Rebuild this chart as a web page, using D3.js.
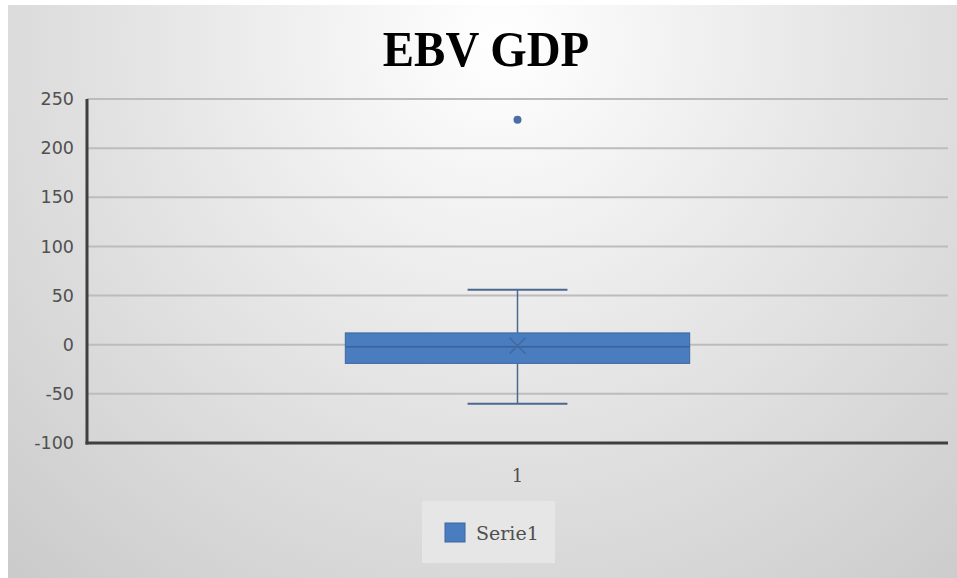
<!DOCTYPE html>
<html>
<head>
<meta charset="utf-8">
<script src="https://cdn.jsdelivr.net/npm/d3@7"></script>
<style>
  html, body { margin: 0; padding: 0; background: #ffffff; }
  svg { display: block; }
</style>
</head>
<body>
<svg id="chart" width="957" height="578"></svg>
<script>
// Box-plot summary of the EBV GDP values
const categories = ["1"];
const seriesName = "Serie1";
const whiskerLow = [-60];
const q1 = [-19];
const median = [-2];
const q3 = [12];
const whiskerHigh = [56];
const mean = [-1];
const outliers = [[229]];
const yTicks = [-100, -50, 0, 50, 100, 150, 200, 250];

const svg = d3.select("#chart");
const W = 957, H = 578;

// Soft radial background
const defs = svg.append("defs");
const grad = defs.append("radialGradient")
  .attr("id", "bg").attr("gradientUnits", "userSpaceOnUse")
  .attr("cx", 500).attr("cy", 40).attr("r", 720);
grad.append("stop").attr("offset", "0").attr("stop-color", "#ffffff");
grad.append("stop").attr("offset", "0.45").attr("stop-color", "#e7e7e7");
grad.append("stop").attr("offset", "1").attr("stop-color", "#cbcbcb");

svg.append("rect").attr("x", 8).attr("y", 5).attr("width", W - 8).attr("height", H - 5)
  .attr("fill", "url(#bg)");

// Title
svg.append("text")
  .attr("transform", "translate(486,66) scale(0.92,1)")
  .attr("text-anchor", "middle")
  .attr("font-family", "Liberation Serif, Times New Roman, serif")
  .attr("font-weight", "bold")
  .attr("font-size", 51)
  .attr("fill", "#000")
  .text("EBV GDP");

const plot = { left: 87, right: 948, top: 99, bottom: 443 };

const y = d3.scaleLinear().domain([-100, 250]).range([plot.bottom, plot.top]);
const x = d3.scaleBand().domain(categories).range([plot.left, plot.right]).padding(0.4286);

// Gridlines
svg.append("g").selectAll("line").data(yTicks.filter(t => t !== -100)).join("line")
  .attr("x1", plot.left).attr("x2", plot.right)
  .attr("y1", d => y(d)).attr("y2", d => y(d))
  .attr("stroke", "#bcbcbc").attr("stroke-width", 2);

// Y axis labels
const yAxis = d3.axisLeft(y).tickValues(yTicks).tickSize(0).tickPadding(13)
  .tickFormat(d => String(d));
const gy = svg.append("g").attr("transform", `translate(${plot.left},0)`).call(yAxis);
gy.select(".domain").remove();
gy.selectAll("text")
  .attr("font-family", "DejaVu Sans, Verdana, sans-serif")
  .attr("font-size", 17.5)
  .attr("fill", "#505050");

// X axis labels
const xAxis = d3.axisBottom(x).tickSize(0).tickPadding(26);
const gx = svg.append("g").attr("transform", `translate(0,${plot.bottom})`).call(xAxis);
gx.select(".domain").remove();
gx.selectAll("text")
  .attr("font-family", "DejaVu Serif, Georgia, serif")
  .attr("font-size", 18)
  .attr("fill", "#505050");

// Axis lines
svg.append("line").attr("x1", plot.left).attr("x2", plot.left)
  .attr("y1", plot.top).attr("y2", plot.bottom + 1.5)
  .attr("stroke", "#3f3f3f").attr("stroke-width", 3);
svg.append("line").attr("x1", plot.left - 1.5).attr("x2", plot.right)
  .attr("y1", plot.bottom).attr("y2", plot.bottom)
  .attr("stroke", "#3f3f3f").attr("stroke-width", 3);

// Boxes
const boxFill = "#4a7dc0";
const boxStroke = "#3d679e";
const whiskerColor = "#4a6890";

categories.forEach((c, i) => {
  const x0 = x(c), bw = x.bandwidth(), cx = x0 + bw / 2;
  const capW = bw * 0.29;
  const g = svg.append("g");

  // whiskers
  g.append("line").attr("x1", cx).attr("x2", cx)
    .attr("y1", y(whiskerHigh[i])).attr("y2", y(q3[i]))
    .attr("stroke", whiskerColor).attr("stroke-width", 1.5);
  g.append("line").attr("x1", cx).attr("x2", cx)
    .attr("y1", y(q1[i])).attr("y2", y(whiskerLow[i]))
    .attr("stroke", whiskerColor).attr("stroke-width", 1.5);
  [whiskerHigh[i], whiskerLow[i]].forEach(v => {
    g.append("line").attr("x1", cx - capW / 2).attr("x2", cx + capW / 2)
      .attr("y1", y(v)).attr("y2", y(v))
      .attr("stroke", whiskerColor).attr("stroke-width", 2);
  });

  // box
  g.append("rect").attr("x", x0).attr("y", y(q3[i]))
    .attr("width", bw).attr("height", y(q1[i]) - y(q3[i]))
    .attr("fill", boxFill).attr("stroke", boxStroke).attr("stroke-width", 1);

  // median
  g.append("line").attr("x1", x0).attr("x2", x0 + bw)
    .attr("y1", y(median[i])).attr("y2", y(median[i]))
    .attr("stroke", "#3a619a").attr("stroke-width", 1.5);

  // mean marker
  const my = y(mean[i]), s = 8;
  g.append("path")
    .attr("d", `M${cx - s},${my - s}L${cx + s},${my + s}M${cx - s},${my + s}L${cx + s},${my - s}`)
    .attr("stroke", "#43689e").attr("stroke-width", 1.5).attr("fill", "none");

  // outliers
  g.selectAll("circle").data(outliers[i]).join("circle")
    .attr("cx", cx).attr("cy", d => y(d)).attr("r", 4)
    .attr("fill", "#4a6ea5");
});

// Legend
const lg = svg.append("g");
lg.append("rect").attr("x", 422).attr("y", 501).attr("width", 133).attr("height", 62)
  .attr("fill", "#e6e6e6");
lg.append("rect").attr("x", 445).attr("y", 523).attr("width", 20).attr("height", 19)
  .attr("fill", boxFill).attr("stroke", boxStroke).attr("stroke-width", 1);
lg.append("text").attr("x", 476).attr("y", 540)
  .attr("font-family", "DejaVu Serif, Georgia, serif")
  .attr("font-size", 19)
  .attr("fill", "#505050")
  .text(seriesName);
</script>
</body>
</html>
